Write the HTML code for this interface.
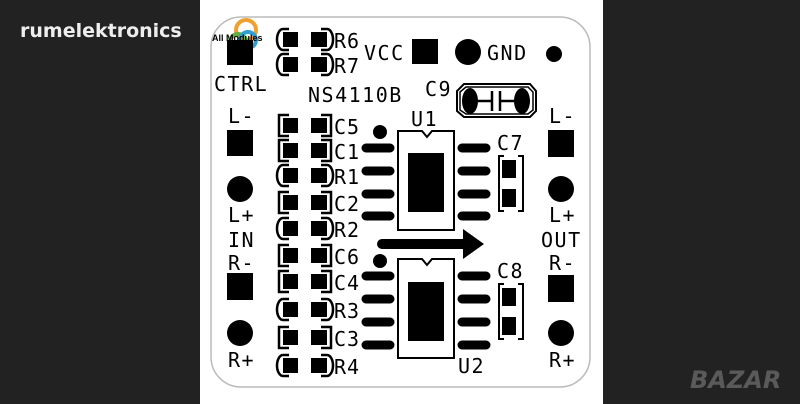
<!DOCTYPE html>
<html><head><meta charset="utf-8"><style>
html,body{margin:0;padding:0;background:#222;width:800px;height:404px;overflow:hidden}
svg{display:block}
text{font-family:"DejaVu Sans Mono","Liberation Mono",monospace;fill:#000}
</style></head><body>
<svg width="800" height="404" viewBox="0 0 800 404" xmlns="http://www.w3.org/2000/svg">
<rect x="0" y="0" width="800" height="404" fill="#222"/>
<rect x="200" y="0" width="403" height="404" fill="#fff"/>
<text x="20" y="37" style="font-family:'DejaVu Sans','Liberation Sans',sans-serif;font-weight:bold;font-size:19px;fill:#eee">rumelektronics</text>
<text x="690" y="388" style="font-family:'DejaVu Sans','Liberation Sans',sans-serif;font-weight:bold;font-size:24px;fill:#5a5a5a;font-style:italic">BAZAR</text>
<rect x="211" y="17" width="379" height="370" rx="30" fill="none" stroke="#bbb" stroke-width="1.5"/>
<!-- logo -->
<circle cx="246" cy="30" r="10" fill="none" stroke="#f0a030" stroke-width="4"/>
<circle cx="238" cy="42" r="8" fill="none" stroke="#60b040" stroke-width="4"/>
<circle cx="248" cy="40" r="8" fill="none" stroke="#30a0d0" stroke-width="4"/>
<g fill="#000">
<rect x="227" y="40" width="26" height="25"/>
<rect x="227" y="130" width="26" height="26"/>
<circle cx="240" cy="189" r="13"/>
<rect x="227" y="273" width="26" height="27"/>
<circle cx="240" cy="333" r="13"/>
<rect x="548" y="130" width="26" height="27"/>
<circle cx="561" cy="189" r="13"/>
<rect x="548" y="275" width="26" height="27"/>
<circle cx="561" cy="333" r="13"/>
<rect x="412" y="39" width="26" height="25"/>
<circle cx="468" cy="52" r="13"/>
<circle cx="554" cy="54" r="8"/>
</g>
<text x="212" y="41" style="font-family:'Liberation Sans',sans-serif;font-size:9px;font-weight:bold">All Modules</text>
<g font-size="20" letter-spacing="1.5">
<text x="214" y="91">CTRL</text>
<text x="228" y="123">L-</text>
<text x="228" y="222">L+</text>
<text x="228" y="247">IN</text>
<text x="228" y="270">R-</text>
<text x="228" y="367">R+</text>
<text x="549" y="123">L-</text>
<text x="549" y="222">L+</text>
<text x="541" y="247">OUT</text>
<text x="549" y="270">R-</text>
<text x="549" y="367">R+</text>
<text x="364" y="60">VCC</text>
<text x="487" y="60">GND</text>
<text x="308" y="102">NS4110B</text>
<text x="425" y="96">C9</text>
<text x="411" y="126">U1</text>
<text x="458" y="373">U2</text>
<text x="497" y="150">C7</text>
<text x="497" y="278">C8</text>
</g>
<!-- C9 -->
<polygon points="464,84 530,84 536,91 536,111 530,117 464,117 457,111 457,91" fill="none" stroke="#000" stroke-width="2"/>
<polygon points="466,87 528,87 533,92 533,110 528,114 466,114 460,110 460,92" fill="none" stroke="#000" stroke-width="1.5"/>
<ellipse cx="470" cy="101" rx="8" ry="13" fill="#000"/>
<ellipse cx="522" cy="101" rx="8" ry="13" fill="#000"/>
<path d="M478 101H492M492 91V111M500 91V111M500 101H514" stroke="#000" stroke-width="2.5" fill="none"/>
<g stroke="#000" stroke-width="2.5" fill="none">
<path d="M289,115 H279 V136 H289 M321,115 H331 V136 H321"/>
<path d="M289,140 H279 V161 H289 M321,140 H331 V161 H321"/>
<path d="M289,192 H279 V213 H289 M321,192 H331 V213 H321"/>
<path d="M289,245 H279 V266 H289 M321,245 H331 V266 H321"/>
<path d="M289,271 H279 V292 H289 M321,271 H331 V292 H321"/>
<path d="M289,327 H279 V348 H289 M321,327 H331 V348 H321"/>
<path d="M289,29 H283 A6 10.5 0 0 0 283,50 H289 M321,29 H327 A6 10.5 0 0 1 327,50 H321"/>
<path d="M289,54 H283 A6 10.5 0 0 0 283,75 H289 M321,54 H327 A6 10.5 0 0 1 327,75 H321"/>
<path d="M289,165 H283 A6 10.5 0 0 0 283,186 H289 M321,165 H327 A6 10.5 0 0 1 327,186 H321"/>
<path d="M289,218 H283 A6 10.5 0 0 0 283,239 H289 M321,218 H327 A6 10.5 0 0 1 327,239 H321"/>
<path d="M289,299 H283 A6 10.5 0 0 0 283,320 H289 M321,299 H327 A6 10.5 0 0 1 327,320 H321"/>
<path d="M289,355 H283 A6 10.5 0 0 0 283,376 H289 M321,355 H327 A6 10.5 0 0 1 327,376 H321"/>
</g>
<g fill="#000">
<rect x="283" y="32" width="15" height="15"/><rect x="311" y="32" width="16" height="15"/>
<rect x="283" y="57" width="15" height="15"/><rect x="311" y="57" width="16" height="15"/>
<rect x="283" y="118" width="15" height="15"/><rect x="311" y="118" width="16" height="15"/>
<rect x="283" y="143" width="15" height="15"/><rect x="311" y="143" width="16" height="15"/>
<rect x="283" y="168" width="15" height="15"/><rect x="311" y="168" width="16" height="15"/>
<rect x="283" y="195" width="15" height="15"/><rect x="311" y="195" width="16" height="15"/>
<rect x="283" y="221" width="15" height="15"/><rect x="311" y="221" width="16" height="15"/>
<rect x="283" y="248" width="15" height="15"/><rect x="311" y="248" width="16" height="15"/>
<rect x="283" y="274" width="15" height="15"/><rect x="311" y="274" width="16" height="15"/>
<rect x="283" y="302" width="15" height="15"/><rect x="311" y="302" width="16" height="15"/>
<rect x="283" y="330" width="15" height="15"/><rect x="311" y="330" width="16" height="15"/>
<rect x="283" y="358" width="15" height="15"/><rect x="311" y="358" width="16" height="15"/>
</g>
<g font-size="20" letter-spacing="1">
<text x="334" y="134">C5</text><text x="334" y="159">C1</text><text x="334" y="184">R1</text>
<text x="334" y="211">C2</text><text x="334" y="237">R2</text><text x="334" y="264">C6</text>
<text x="334" y="290">C4</text><text x="334" y="318">R3</text><text x="334" y="346">C3</text>
<text x="334" y="374">R4</text><text x="334" y="48">R6</text><text x="334" y="73">R7</text>
</g>
<g stroke="#000" stroke-width="2" fill="none">
<path d="M398,131 H422 L427,137 L432,131 H454 V230 H398 Z"/>
<path d="M398,259 H422 L427,265 L432,259 H454 V358 H398 Z"/>
</g>
<g fill="#000">
<rect x="408" y="153" width="36" height="59"/>
<rect x="408" y="282" width="36" height="59"/>
<circle cx="380" cy="132" r="7"/>
<circle cx="380" cy="261" r="7"/>
</g>
<g stroke="#000" stroke-width="9" stroke-linecap="round">
<path d="M366,148H390M366,171H390M366,194H390M366,216H390"/>
<path d="M462,148H486M462,171H486M462,194H486M462,216H486"/>
<path d="M366,276H390M366,299H390M366,322H390M366,345H390"/>
<path d="M462,276H486M462,299H486M462,322H486M462,345H486"/>
<path d="M382,244H468" stroke-width="10"/>
</g>
<polygon points="463,229 484,244 463,259" fill="#000"/>
<g stroke="#000" stroke-width="2" fill="none">
<path d="M504,156H499V211H504M518,156H523V211H518"/>
<path d="M504,284H499V339H504M518,284H523V339H518"/>
</g>
<g fill="#000">
<rect x="502" y="160" width="14" height="18"/><rect x="502" y="189" width="14" height="18"/>
<rect x="502" y="288" width="14" height="18"/><rect x="502" y="317" width="14" height="18"/>
</g>
</svg>
</body></html>
